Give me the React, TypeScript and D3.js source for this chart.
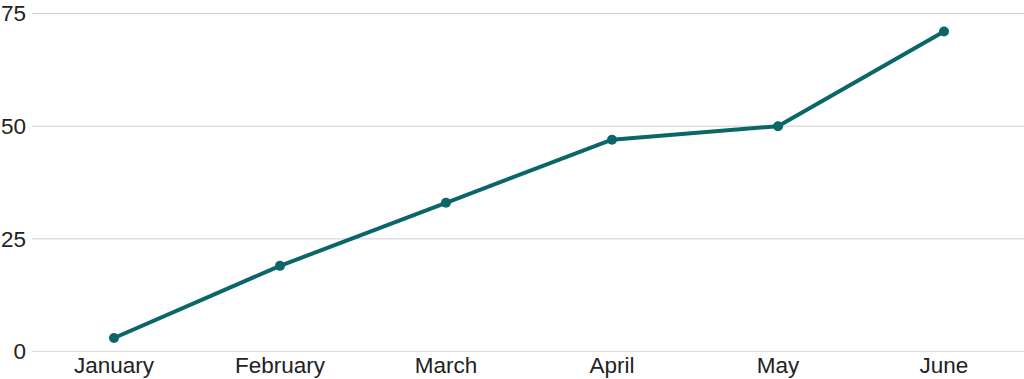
import React from "react";
import * as d3 from "d3";

const months = ["January", "February", "March", "April", "May", "June"];
const values = [3, 19, 33, 47, 50, 71];
const yTicks = [0, 25, 50, 75];

const W = 1024;
const H = 379;

export default function App() {
  const x = d3.scalePoint<string>().domain(months).range([31, 1027]).padding(0.5);
  const y = d3.scaleLinear().domain([0, 75]).range([351.5, 13.5]);
  const line = d3
    .line<number>()
    .x((_, i) => x(months[i]) as number)
    .y((d) => y(d));
  const font = "'Liberation Sans', Arial, sans-serif";
  return (
    <svg
      width={W}
      height={H}
      style={{ position: "absolute", left: 0, top: 0, background: "#fff" }}
      fontFamily={font}
    >
      {yTicks.map((t) => (
        <g key={t}>
          <line x1={32} x2={W} y1={y(t)} y2={y(t)} stroke={t === 0 ? "#dcdcdc" : "#cfcfcf"} strokeWidth={1} />
          <text x={26} y={y(t)} dy="0.35em" textAnchor="end" fontSize={22.5} fill="#222">
            {t}
          </text>
        </g>
      ))}
      {months.map((m) => (
        <text key={m} x={x(m)} y={373} textAnchor="middle" fontSize={22.5} fill="#222">
          {m}
        </text>
      ))}
      <path d={line(values) || ""} fill="none" stroke="#0a6669" strokeWidth={4} strokeLinejoin="round" />
      {values.map((v, i) => (
        <circle key={i} cx={x(months[i])} cy={y(v)} r={5} fill="#0a6669" />
      ))}
    </svg>
  );
}
